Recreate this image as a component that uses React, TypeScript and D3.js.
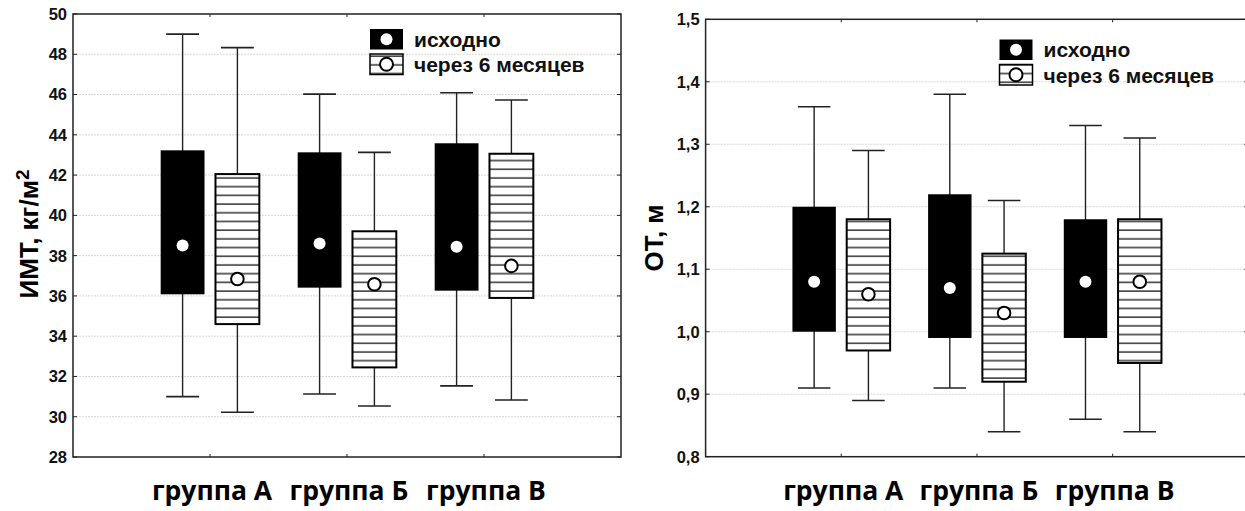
import React from "react";
import * as d3 from "d3";

// [lower whisker, box bottom, mean, box top, upper whisker]
type Stat = [number, number, number, number, number];

const groups = ["группа А", "группа Б", "группа В"];
const seriesNames = ["исходно", "через 6 месяцев"];

const bmiBefore: Stat[] = [
  [31.0, 36.08, 38.5, 43.23, 49.0],
  [31.13, 36.41, 38.6, 43.13, 46.02],
  [31.53, 36.26, 38.44, 43.58, 46.09],
];
const bmiAfter: Stat[] = [
  [30.22, 34.6, 36.84, 42.05, 48.33],
  [30.53, 32.45, 36.58, 39.21, 43.13],
  [30.83, 35.9, 37.49, 43.06, 45.73],
];
const bmiTicks = [28, 30, 32, 34, 36, 38, 40, 42, 44, 46, 48, 50];

const waistBefore: Stat[] = [
  [0.91, 1.0, 1.08, 1.2, 1.36],
  [0.91, 0.99, 1.07, 1.22, 1.38],
  [0.86, 0.99, 1.08, 1.18, 1.33],
];
const waistAfter: Stat[] = [
  [0.89, 0.97, 1.06, 1.18, 1.29],
  [0.84, 0.92, 1.03, 1.125, 1.21],
  [0.84, 0.95, 1.08, 1.18, 1.31],
];
const waistTicks = [0.8, 0.9, 1.0, 1.1, 1.2, 1.3, 1.4, 1.5];

const FONT = "'Liberation Sans', Arial, sans-serif";

interface ChartCfg {
  id: string;
  x0: number;
  x1: number;
  y0: number;
  y1: number;
  domain: [number, number];
  ticks: number[];
  fmt: (v: number) => string;
  title: string;
  titleSup?: string;
  titleX: number;
  titleY: number;
  legendX: number;
  legendY: number;
}

function BoxChart({
  cfg,
  before,
  after,
}: {
  cfg: ChartCfg;
  before: Stat[];
  after: Stat[];
}) {
  const x = d3.scaleLinear().domain([0, 4]).range([cfg.x0, cfg.x1]);
  const y = d3.scaleLinear().domain(cfg.domain).range([cfg.y1, cfg.y0]);
  const unit = x(1) - x(0);
  const boxW = unit * 0.32;
  const offset = unit * 0.2;
  const capW = unit * 0.24;
  const patId = `stripes-${cfg.id}`;

  const drawBox = (s: Stat, cx: number, striped: boolean, key: string) => (
    <g key={key}>
      <line x1={cx} x2={cx} y1={y(s[0])} y2={y(s[4])} stroke="#222" strokeWidth={1.4} />
      <line x1={cx - capW / 2} x2={cx + capW / 2} y1={y(s[4])} y2={y(s[4])} stroke="#222" strokeWidth={1.6} />
      <line x1={cx - capW / 2} x2={cx + capW / 2} y1={y(s[0])} y2={y(s[0])} stroke="#222" strokeWidth={1.6} />
      <rect
        x={cx - boxW / 2}
        y={y(s[3])}
        width={boxW}
        height={y(s[1]) - y(s[3])}
        fill={striped ? `url(#${patId})` : "#000"}
        stroke="#000"
        strokeWidth={striped ? 2 : 0}
      />
      {striped ? (
        <circle cx={cx} cy={y(s[2])} r={6.3} fill="#fff" stroke="#000" strokeWidth={2} />
      ) : (
        <circle cx={cx} cy={y(s[2])} r={6} fill="#fff" />
      )}
    </g>
  );

  const lx = cfg.legendX;
  const ly = cfg.legendY;
  const sw = 33;
  const sh = 20.5;

  return (
    <g>
      <defs>
        <pattern id={patId} patternUnits="userSpaceOnUse" width={20} height={8.7}>
          <rect width={20} height={8.7} fill="#fff" />
          <line x1={0} x2={20} y1={4} y2={4} stroke="#333" strokeWidth={1.5} />
        </pattern>
      </defs>

      {/* grid */}
      {cfg.ticks.slice(1, -1).map((t) => (
        <line
          key={`g${t}`}
          x1={cfg.x0}
          x2={cfg.x1}
          y1={y(t)}
          y2={y(t)}
          stroke="#d8d8d8"
          strokeWidth={1}
          strokeDasharray="2,1"
        />
      ))}

      {/* frame */}
      <rect
        x={cfg.x0}
        y={cfg.y0}
        width={cfg.x1 - cfg.x0}
        height={cfg.y1 - cfg.y0}
        fill="none"
        stroke="#222"
        strokeWidth={1.5}
      />

      {/* y ticks */}
      {cfg.ticks.map((t) => (
        <g key={`t${t}`}>
          <line x1={cfg.x0} x2={cfg.x0 + 4} y1={y(t)} y2={y(t)} stroke="#222" strokeWidth={1} />
          <line x1={cfg.x1} x2={cfg.x1 - 4} y1={y(t)} y2={y(t)} stroke="#222" strokeWidth={1} />
          <text
            x={cfg.x0 - 6}
            y={y(t)}
            dy="0.36em"
            textAnchor="end"
            fontFamily={FONT}
            fontWeight="bold"
            fontSize={16.5}
            fill="#111"
          >
            {cfg.fmt(t)}
          </text>
        </g>
      ))}

      {/* category ticks on top and bottom */}
      {groups.map((g, i) => (
        <g key={`c${g}`}>
          <line x1={x(i + 1)} x2={x(i + 1)} y1={cfg.y0} y2={cfg.y0 + 3} stroke="#222" strokeWidth={1} />
          <line x1={x(i + 1)} x2={x(i + 1)} y1={cfg.y1} y2={cfg.y1 - 3} stroke="#222" strokeWidth={1} />
          <text
            x={x(i + 1) + 2}
            y={500}
            textAnchor="middle"
            fontFamily="'Open Sans', sans-serif"
            fontWeight="bold"
            fontSize={26.5}
            fill="#000"
          >
            {g}
          </text>
        </g>
      ))}

      {/* boxes */}
      {groups.map((g, i) => [
        drawBox(before[i], x(i + 1) - offset, false, `b${i}`),
        drawBox(after[i], x(i + 1) + offset, true, `a${i}`),
      ])}

      {/* legend */}
      <rect x={lx} y={ly} width={sw} height={sh} fill="#000" />
      <circle cx={lx + sw / 2} cy={ly + sh / 2} r={6} fill="#fff" />
      <rect x={lx} y={ly + 25} width={sw} height={sh} fill={`url(#${patId})`} stroke="#000" strokeWidth={1.5} />
      <circle cx={lx + sw / 2} cy={ly + 25 + sh / 2} r={6.5} fill="#fff" stroke="#000" strokeWidth={2} />
      {seriesNames.map((n, i) => (
        <text
          key={n}
          x={lx + sw + 11}
          y={ly + 17.5 + i * 25.5}
          fontFamily={FONT}
          fontWeight="bold"
          fontSize={21}
          fill="#111"
        >
          {n}
        </text>
      ))}

      {/* y title */}
      <text
        transform={`translate(${cfg.titleX},${cfg.titleY}) rotate(-90)`}
        textAnchor="middle"
        fontFamily={FONT}
        fontWeight="bold"
        fontSize={26}
        fill="#000"
      >
        {cfg.title}
        {cfg.titleSup && (
          <tspan dy="-0.45em" fontSize={19}>
            {cfg.titleSup}
          </tspan>
        )}
      </text>
    </g>
  );
}

const bmiCfg: ChartCfg = {
  id: "bmi",
  x0: 73,
  x1: 621,
  y0: 14,
  y1: 457,
  domain: [28, 50],
  ticks: bmiTicks,
  fmt: (v) => String(v),
  title: "ИМТ, кг/м",
  titleSup: "2",
  titleX: 38,
  titleY: 234,
  legendX: 370,
  legendY: 29,
};

const waistCfg: ChartCfg = {
  id: "waist",
  x0: 705.6,
  x1: 1248.3,
  y0: 19.3,
  y1: 456.7,
  domain: [0.8, 1.5],
  ticks: waistTicks,
  fmt: (v) => d3.format(".1f")(v).replace(".", ","),
  title: "ОТ, м",
  titleX: 663,
  titleY: 238,
  legendX: 999.5,
  legendY: 39.5,
};

export default function App() {
  return (
    <svg
      width={1245}
      height={511}
      style={{ position: "absolute", left: 0, top: 0, background: "#fff" }}
    >
      <rect width={1245} height={511} fill="#fff" />
      <BoxChart cfg={bmiCfg} before={bmiBefore} after={bmiAfter} />
      <BoxChart cfg={waistCfg} before={waistBefore} after={waistAfter} />
    </svg>
  );
}
